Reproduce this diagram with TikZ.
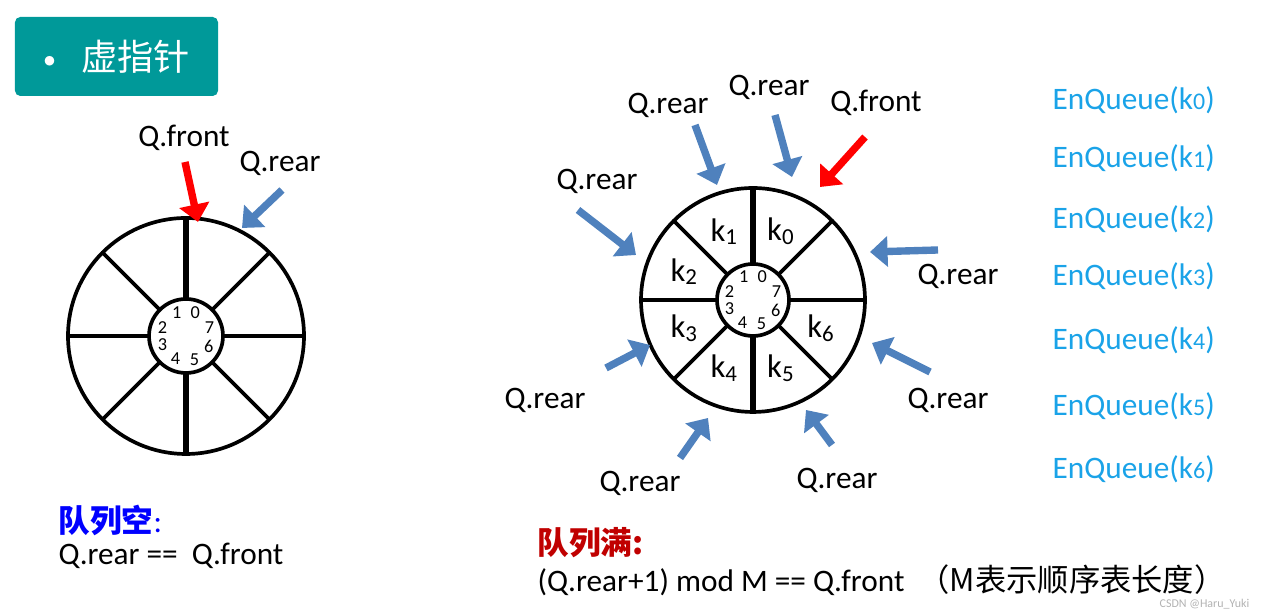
\documentclass[tikz,border=0pt]{standalone}
\usepackage{fontspec}
\setmainfont{Carlito}
\newfontfamily\cjk{Noto Sans CJK SC}
\usetikzlibrary{arrows.meta,calc}
\definecolor{boxteal}{HTML}{009999}
\definecolor{arrblue}{HTML}{4F81BD}
\definecolor{enqblue}{HTML}{1AA3E8}
\definecolor{fullred}{HTML}{C00000}
\begin{document}
\begin{tikzpicture}[
    rim/.style={line width=1.05pt},
    thick spoke/.style={line width=1.6pt},
    lbl/.style={font=\fontsize{8.9}{10}\selectfont, inner sep=0pt},
    idx/.style={font=\fontsize{5.2}{6}\selectfont, inner sep=0pt},
    slot/.style={font=\fontsize{9.3}{10}\selectfont, inner sep=0pt},
    enq/.style={font=\fontsize{8.9}{10}\selectfont, text=enqblue, anchor=west, inner sep=0pt},
    ptr/.style={line width=2.1pt, draw=arrblue, -{Triangle[length=5pt,width=8.5pt]}},
    ptrred/.style={ptr, draw=red},
  ]
  \useasboundingbox (0,0) rectangle (12.64,6.10);
  % title box
  \node[fill=boxteal, rounded corners=1.5pt, minimum width=2.03cm, minimum height=0.79cm,
        text=white, font=\cjk\fontsize{10.3}{11}\selectfont] (title) at (1.165,5.535)
        {\raisebox{1pt}{\fontsize{6}{6}\selectfont$\bullet$}\hspace{0.25cm}虚指针\hspace{0.15cm}};
  % empty queue ring
  \coordinate (e) at (1.86,2.74);
  \draw[rim] (e) circle (1.18) (e) circle (0.37);
  \foreach \a in {45,135,...,315}
    \draw[rim] ($(e)+(\a:0.37)$) -- ($(e)+(\a:1.18)$);
  \foreach \a in {0,180}
    \draw[rim] ($(e)+(\a:0.37)$) -- ($(e)+(\a:1.18)$);
  \foreach \a in {90,270}
    \draw[thick spoke] ($(e)+(\a:0.37)$) -- ($(e)+(\a:1.18)$);
  \foreach \n/\a in {0/68,1/112,2/160,3/200,4/245,5/290,6/335,7/20}
    \node[idx] (e\n) at ($(e)+(\a:0.25)$) {\n};
  % full queue ring
  \coordinate (f) at (7.53,3.10);
  \draw[rim] (f) circle (1.12) (f) circle (0.36);
  \foreach \a in {45,135,...,315}
    \draw[rim] ($(f)+(\a:0.36)$) -- ($(f)+(\a:1.12)$);
  \foreach \a in {0,180}
    \draw[rim] ($(f)+(\a:0.36)$) -- ($(f)+(\a:1.12)$);
  \foreach \a in {90,270}
    \draw[thick spoke] ($(f)+(\a:0.36)$) -- ($(f)+(\a:1.12)$);
  \foreach \n/\a in {0/68,1/112,2/160,3/200,4/245,5/290,6/335,7/20}
    \node[idx] (f\n) at ($(f)+(\a:0.25)$) {\n};
  \foreach \n/\a in {0/67.5,1/112.5,2/157.5,3/202.5,4/247.5,5/292.5,6/337.5}
    \node[slot] (k\n) at ($(f)+(\a:0.74)$) {k\textsubscript{\n}};
  % pointers on the empty ring
  \node[lbl] (efront) at (1.84,4.72) {Q.front};
  \node[lbl] (erear) at (2.80,4.47) {Q.rear};
  \coordinate (efronttip) at (1.98,3.88);
  \coordinate (ereartip) at (2.42,3.82);
  \draw[ptrred] (1.85,4.48) -- (efronttip);
  \draw[ptr] (2.82,4.20) -- (ereartip);
  % pointers on the full ring
  \node[lbl] (r1) at (6.68,5.05) {Q.rear};
  \node[lbl] (r0) at (7.69,5.23) {Q.rear};
  \node[lbl] (ffront) at (8.76,5.07) {Q.front};
  \node[lbl] (r2) at (5.97,4.29) {Q.rear};
  \node[lbl] (r3) at (9.58,3.34) {Q.rear};
  \node[lbl] (r4) at (5.45,2.10) {Q.rear};
  \node[lbl] (r5) at (6.40,1.27) {Q.rear};
  \node[lbl] (r6) at (8.37,1.30) {Q.rear};
  \node[lbl] (r7) at (9.48,2.10) {Q.rear};
  \coordinate (t1) at (7.17,4.25);
  \coordinate (t0) at (7.92,4.33);
  \coordinate (tf) at (8.20,4.23);
  \coordinate (t2) at (6.36,3.55);
  \coordinate (t3) at (8.70,3.58);
  \coordinate (t4) at (6.50,2.65);
  \coordinate (t5) at (7.08,1.92);
  \coordinate (t6) at (8.06,2.00);
  \coordinate (t7) at (8.72,2.67);
  \draw[ptr] (6.95,4.85) -- (t1);
  \draw[ptr] (7.75,4.95) -- (t0);
  \draw[ptrred] (8.65,4.73) -- (tf);
  \draw[ptr] (5.78,4.00) -- (t2);
  \draw[ptr] (9.38,3.60) -- (t3);
  \draw[ptr] (6.06,2.42) -- (t4);
  \draw[ptr] (6.80,1.52) -- (t5);
  \draw[ptr] (8.32,1.65) -- (t6);
  \draw[ptr] (9.30,2.38) -- (t7);
  % enqueue list
  \foreach \n/\y in {0/5.10,1/4.52,2/3.91,3/3.34,4/2.70,5/2.04,6/1.41}
    \node[enq] (enq\n) at (10.52,\y) {EnQueue(k{\fontsize{6.8}{7}\selectfont\n})};
  % conditions
  \node[anchor=west, inner sep=0pt, text=blue, font=\cjk\bfseries\fontsize{9}{10}\selectfont]
    (emptyhead) at (0.58,0.90) {队列空{\normalfont\mdseries:}};
  \node[lbl, anchor=west] (emptycond) at (0.58,0.54) {Q.rear ==\ \ Q.front};
  \node[anchor=west, inner sep=0pt, text=fullred, font=\cjk\bfseries\fontsize{9}{10}\selectfont]
    (fullhead) at (5.37,0.67) {队列满:};
  \node[lbl, anchor=west] (fullcond) at (5.37,0.30)
    {(Q.rear+1) mod M == Q.front \ {\cjk （M表示顺序表长度）}};
  \node[anchor=east, inner sep=0pt, text=gray!60, font=\fontsize{3.4}{4}\selectfont]
    (mark) at (12.50,0.06) {CSDN @Haru\_Yuki};
\end{tikzpicture}
\end{document}
